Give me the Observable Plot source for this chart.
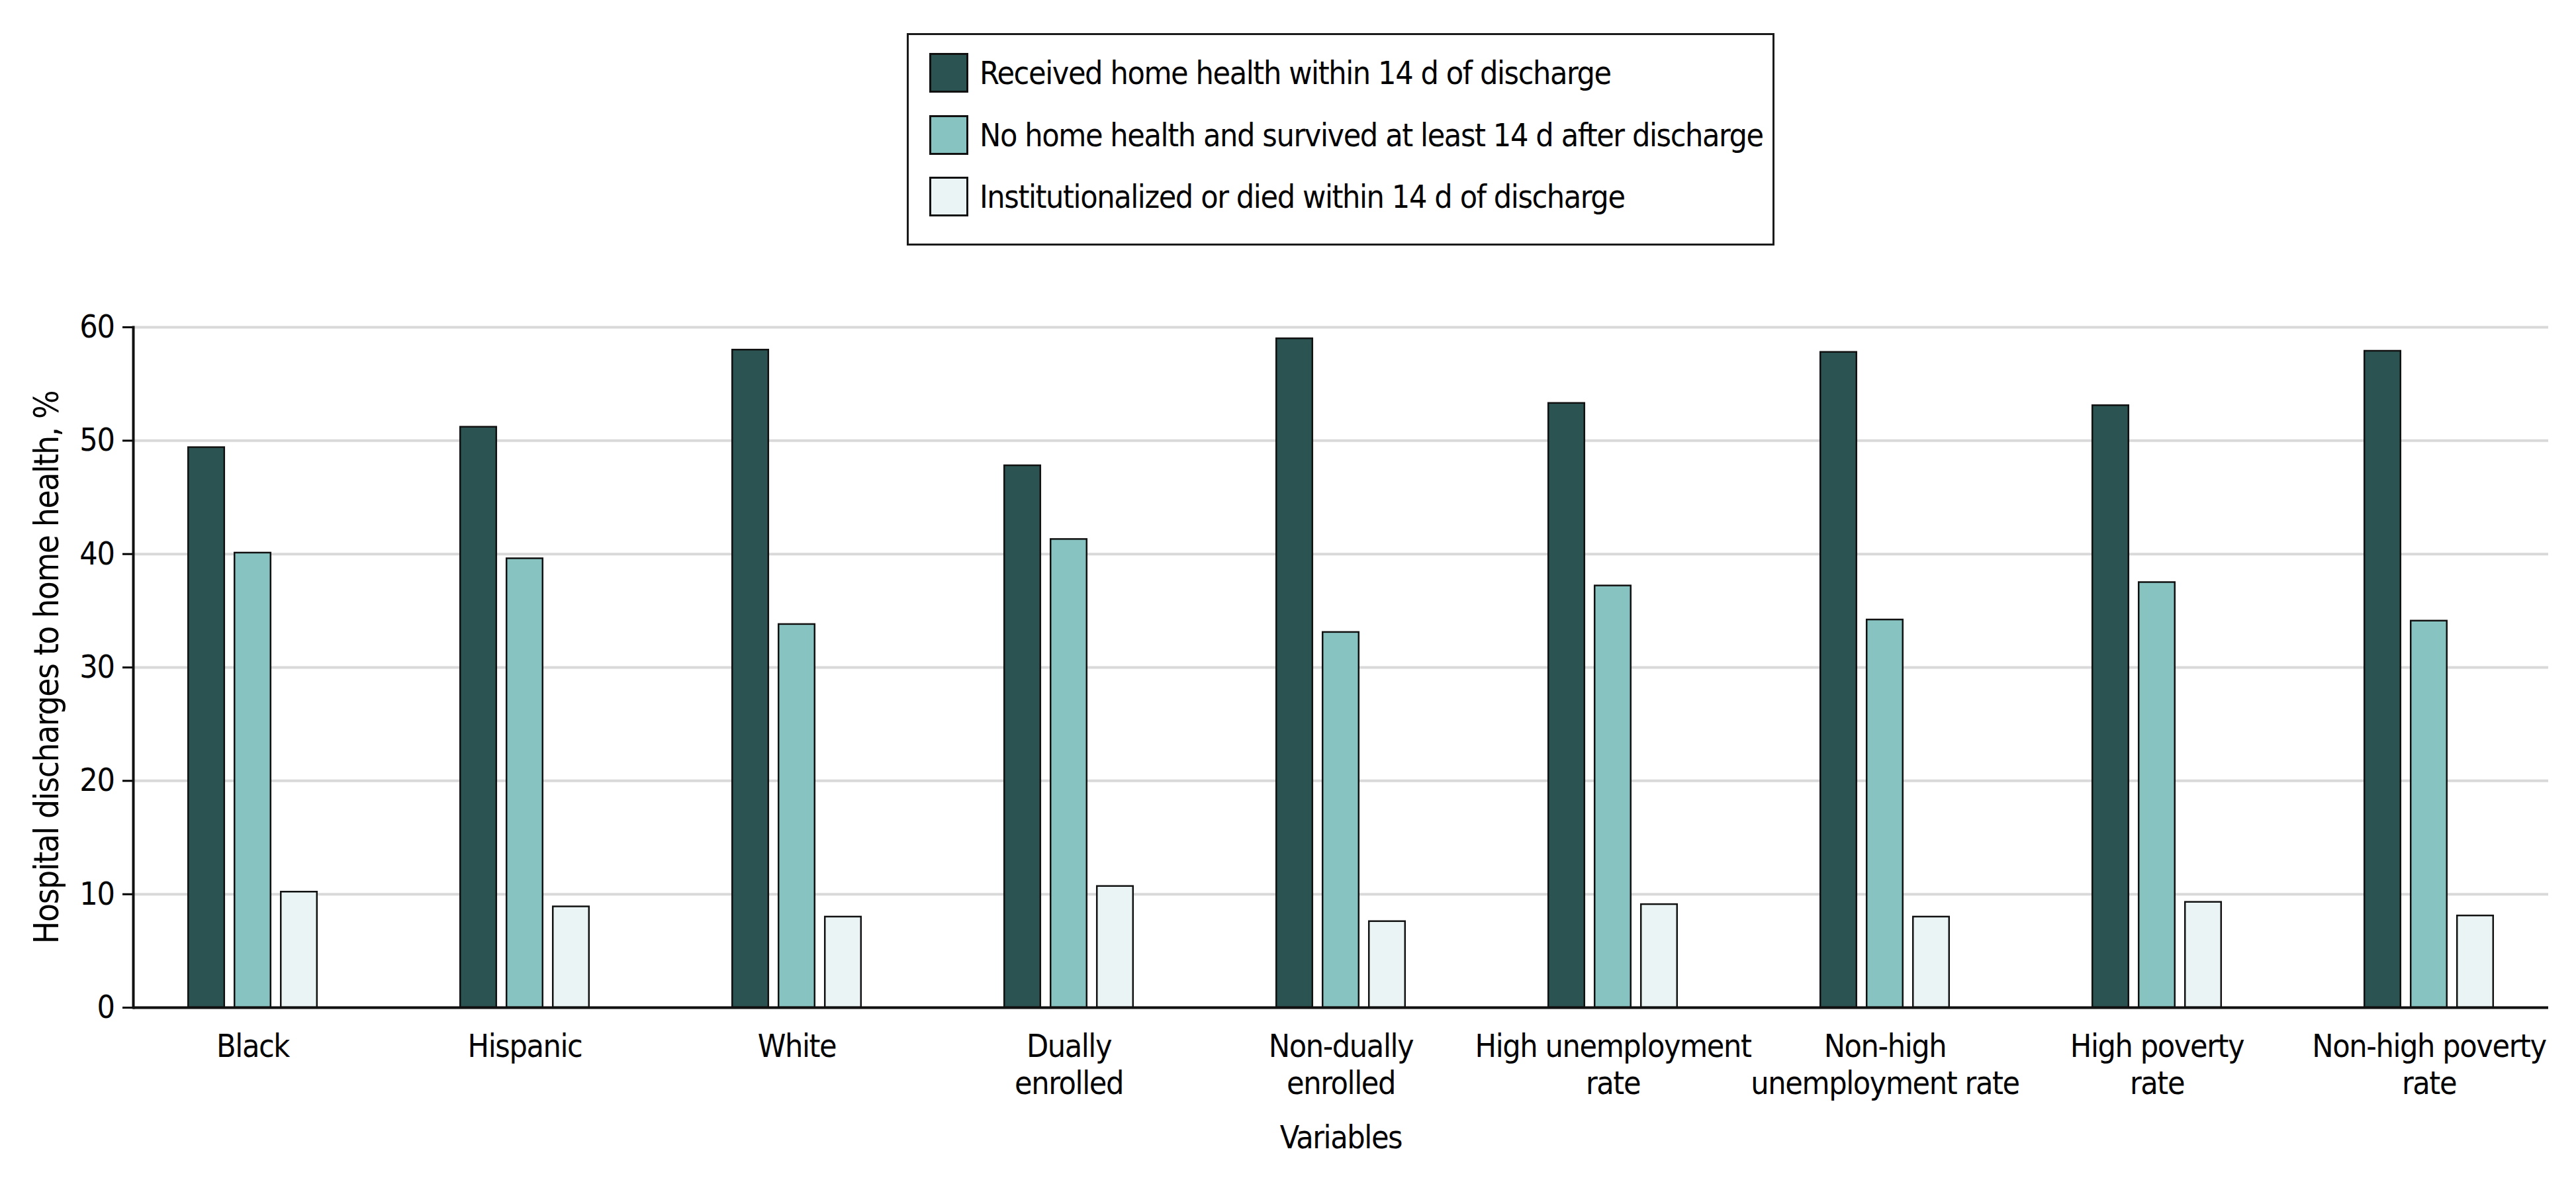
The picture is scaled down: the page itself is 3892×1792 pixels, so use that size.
<!DOCTYPE html>
<html><head><meta charset="utf-8">
<script src="https://cdn.jsdelivr.net/npm/d3@7"></script>
<script src="https://cdn.jsdelivr.net/npm/@observablehq/plot@0.6"></script>
<style>
html,body{margin:0;padding:0;background:#fff;}
#wrap{position:relative;width:3892px;height:1792px;background:#fff;}
#legend{position:absolute;left:1370px;top:50px;width:1305px;height:315px;border:3px solid #1a1a1a;
  font-family:"DejaVu Sans Condensed","DejaVu Sans",sans-serif;font-size:48px;letter-spacing:-1.4px;color:#000;white-space:nowrap;}
#legend .row{position:absolute;left:31px;height:60px;display:flex;align-items:center;}
#legend .sw{width:53px;height:54px;border:3px solid #111;margin-right:17px;flex:none;}
#chart{position:absolute;left:0;top:400px;}
#chart svg text{letter-spacing:-1.4px;}
</style></head>
<body><div id="wrap"><div id="legend"></div><div id="chart"></div></div>
<script>
const categories = ["Black","Hispanic","White","Dually enrolled","Non-dually enrolled","High unemployment rate","Non-high unemployment rate","High poverty rate","Non-high poverty rate"];
const tickLabels = ["Black","Hispanic","White","Dually\nenrolled","Non-dually\nenrolled","High unemployment\nrate","Non-high\nunemployment rate","High poverty\nrate","Non-high poverty\nrate"];
const seriesNames = ["Received home health within 14 d of discharge","No home health and survived at least 14 d after discharge","Institutionalized or died within 14 d of discharge"];
const seriesColors = ["#2b5352","#87c3c1","#eaf4f4"];
const received = [49.4,51.2,58.0,47.8,59.0,53.3,57.8,53.1,57.9];
const noHomeHealth = [40.1,39.6,33.8,41.3,33.1,37.2,34.2,37.5,34.1];
const institutionalized = [10.2,8.9,8.0,10.7,7.6,9.1,8.0,9.3,8.1];
const yTicks = [0,10,20,30,40,50,60];
const yLabel = "Hospital discharges to home health, %";
const xLabel = "Variables";

const seriesValues = [received, noHomeHealth, institutionalized];
const data = [];
seriesNames.forEach((s, i) => categories.forEach((c, j) => data.push({category: c, series: s, value: seriesValues[i][j]})));

const legend = document.getElementById("legend");
seriesNames.forEach((s, i) => {
  const row = document.createElement("div");
  row.className = "row";
  row.style.top = (27 + i * 93.5) + "px";
  const sw = document.createElement("div");
  sw.className = "sw";
  sw.style.background = seriesColors[i];
  const t = document.createElement("span");
  t.textContent = s;
  row.appendChild(sw); row.appendChild(t);
  legend.appendChild(row);
});

const W = 3892, H = 1392, mL = 201, mR = 42, mT = 94, mB = 270, xInset = -27;
const bandW = (W - mL - mR - 2 * xInset) / categories.length;
const barW = 55, barStep = 70;
const condensed = "DejaVu Sans Condensed";

const barMarks = seriesNames.map((s, i) => {
  const off = (i - 1) * barStep;
  const side = (bandW - barW) / 2;
  return Plot.barY(data.filter(d => d.series === s), {
    x: "category", y: "value", fill: "series",
    stroke: "#111", strokeWidth: 2.5,
    insetLeft: side + off, insetRight: side - off
  });
});

const chart = Plot.plot({
  width: W, height: H,
  marginLeft: mL, marginRight: mR, marginTop: mT, marginBottom: mB,
  style: {background: "#fff", color: "#000", fontFamily: condensed},
  x: {type: "band", domain: categories, padding: 0, insetLeft: xInset, insetRight: xInset},
  y: {domain: [0, 60], ticks: yTicks},
  color: {domain: seriesNames, range: seriesColors},
  marks: [
    Plot.gridY(yTicks, {stroke: "#d9d9d9", strokeOpacity: 1, strokeWidth: 4}),
    ...barMarks,
    Plot.axisY(yTicks, {tickSize: 16, tickPadding: 13, strokeWidth: 3, fontSize: 48, fontFamily: condensed, label: null}),
    Plot.axisX({tickSize: 0, tickPadding: 34, fontSize: 48, fontFamily: condensed, lineHeight: 1.18,
      tickFormat: d => tickLabels[categories.indexOf(d)], label: null}),
    Plot.frame({anchor: "left", stroke: "#111", strokeWidth: 4}),
    Plot.ruleY([0], {stroke: "#111", strokeWidth: 4}),
    Plot.text([yLabel], {frameAnchor: "left", textAnchor: "middle", rotate: -90, dx: -130, lineAnchor: "middle", fontSize: 51, fontFamily: condensed, fill: "#000"}),
    Plot.text([xLabel], {frameAnchor: "bottom", dy: 178, lineAnchor: "top", fontSize: 48, fontFamily: condensed, fill: "#000"})
  ]
});
document.getElementById("chart").appendChild(chart);
</script></body></html>
